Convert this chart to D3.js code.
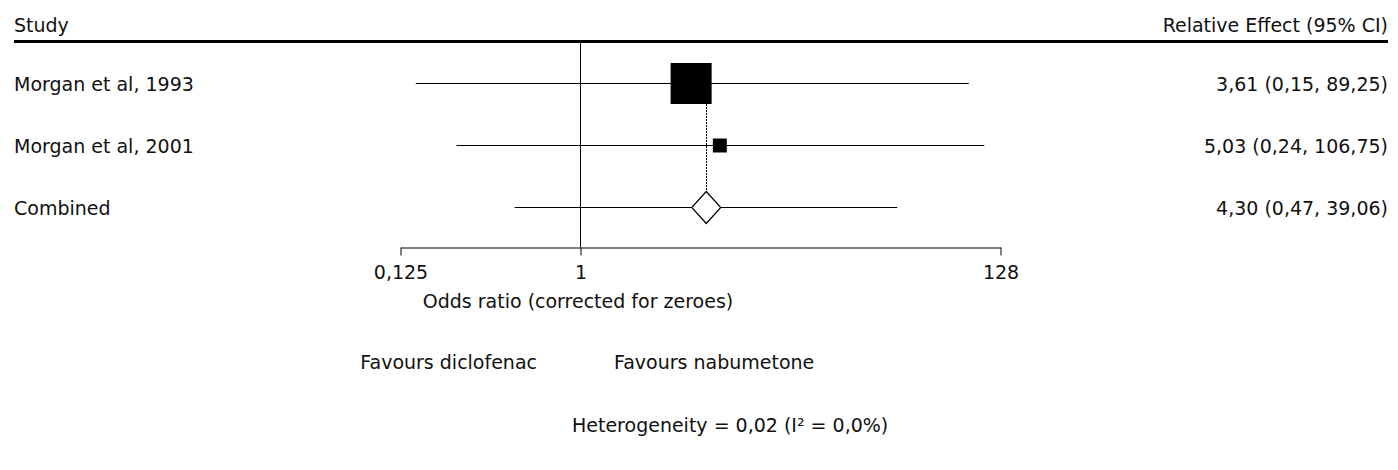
<!DOCTYPE html>
<html>
<head>
<meta charset="utf-8">
<script src="https://cdn.jsdelivr.net/npm/d3@7"></script>
<style>
  html, body { margin: 0; padding: 0; background: #fff; }
  svg text { font-family: "DejaVu Sans", Verdana, sans-serif; font-size: 19px; fill: #111; }
</style>
</head>
<body>
<svg id="chart" width="1398" height="470"></svg>
<script>
// Forest plot: odds ratios with 95% confidence intervals
const studies   = ["Morgan et al, 1993", "Morgan et al, 2001"];
const estimates = [3.61, 5.03];
const lowerCI   = [0.15, 0.24];
const upperCI   = [89.25, 106.75];
const weights   = [89.6, 10.4];

const pooledLabel    = "Combined";
const pooledEstimate = 4.30;
const pooledLower    = 0.47;
const pooledUpper    = 39.06;

const tickValues = [0.125, 1, 128];
const xTitle = "Odds ratio (corrected for zeroes)";
const leftFavour = "Favours diclofenac";
const rightFavour = "Favours nabumetone";
const heterogeneity = "Heterogeneity = 0,02 (I\u00B2 = 0,0%)";

const locale = d3.formatLocale({ decimal: ",", thousands: ".", grouping: [3], currency: ["", ""] });
const f2 = locale.format(".2f");
const fTick = v => locale.format("~g")(v);

const svg = d3.select("#chart");

const x = d3.scaleLog().base(2).domain([0.125, 128]).range([400, 1000]);
const rows = studies.concat([pooledLabel]);
const y = d3.scalePoint().domain(rows).range([83, 207]);
const side = d3.scaleSqrt().domain([0, d3.max(weights)]).range([0, 41]);
const textOffset = 8;

// column headers and rule
svg.append("text").attr("x", 14).attr("y", 32).text("Study");
svg.append("text").attr("x", 1388).attr("y", 32).attr("text-anchor", "end").text("Relative Effect (95% CI)");
svg.append("rect").attr("x", 14).attr("y", 40).attr("width", 1374).attr("height", 3).attr("fill", "#000");

// line of no effect
svg.append("line")
  .attr("x1", x(1) + 0.5).attr("x2", x(1) + 0.5)
  .attr("y1", 43).attr("y2", 247)
  .attr("stroke", "#000").attr("stroke-width", 1);

// axis
const axis = d3.axisBottom(x).tickValues(tickValues).tickFormat(fTick)
  .tickSize(8).tickSizeOuter(0).tickPadding(10);
const gAxis = svg.append("g").attr("transform", "translate(0.5,247.5)").call(axis);
gAxis.select(".domain").attr("stroke", "#000");
gAxis.selectAll(".tick line").attr("stroke", "#000");
gAxis.selectAll(".tick text").attr("fill", "#111")
  .style("font-family", "\"DejaVu Sans\", Verdana, sans-serif").style("font-size", "19px");

// study rows
const data = studies.map((s, i) => ({ s, est: estimates[i], lo: lowerCI[i], hi: upperCI[i], w: weights[i] }));

svg.selectAll("text.label").data(rows).join("text").attr("class", "label")
  .attr("x", 14).attr("y", d => y(d) + textOffset).text(d => d);

svg.selectAll("line.ci").data(data).join("line").attr("class", "ci")
  .attr("x1", d => x(d.lo)).attr("x2", d => x(d.hi))
  .attr("y1", d => Math.round(y(d.s)) + 0.5).attr("y2", d => Math.round(y(d.s)) + 0.5)
  .attr("stroke", "#000").attr("stroke-width", 1);

svg.selectAll("rect.box").data(data).join("rect").attr("class", "box")
  .attr("x", d => x(d.est) - side(d.w) / 2)
  .attr("y", d => y(d.s) - side(d.w) / 2 + 0.5)
  .attr("width", d => side(d.w)).attr("height", d => side(d.w))
  .attr("fill", "#000");

svg.selectAll("text.effect").data(data).join("text").attr("class", "effect")
  .attr("x", 1388).attr("y", d => y(d.s) + textOffset).attr("text-anchor", "end")
  .text(d => `${f2(d.est)} (${f2(d.lo)}, ${f2(d.hi)})`);

// pooled estimate
const py = y(pooledLabel);
const px = x(pooledEstimate);
svg.append("line")
  .attr("x1", x(pooledLower)).attr("x2", x(pooledUpper))
  .attr("y1", Math.round(py) + 0.5).attr("y2", Math.round(py) + 0.5)
  .attr("stroke", "#000").attr("stroke-width", 1);

const topBox = Math.round(y(studies[0]) + side(weights[0]) / 2);
svg.append("line")
  .attr("x1", Math.round(px) + 0.5).attr("x2", Math.round(px) + 0.5)
  .attr("y1", topBox).attr("y2", py - 15.5)
  .attr("stroke", "#000").attr("stroke-width", 1.2).attr("stroke-dasharray", "1.5,1.5")
  .attr("shape-rendering", "crispEdges");

svg.append("path")
  .attr("d", `M${px},${py - 15.5} L${px + 14.5},${py + 0.5} L${px},${py + 16.5} L${px - 14.5},${py + 0.5} Z`)
  .attr("fill", "#fff").attr("stroke", "#000").attr("stroke-width", 1.2);

svg.append("text").attr("x", 1388).attr("y", py + textOffset).attr("text-anchor", "end")
  .text(`${f2(pooledEstimate)} (${f2(pooledLower)}, ${f2(pooledUpper)})`);

// footer text
svg.append("text").attr("x", 578).attr("y", 308).attr("text-anchor", "middle").text(xTitle);
svg.append("text").attr("x", 537).attr("y", 369).attr("text-anchor", "end").text(leftFavour);
svg.append("text").attr("x", 614).attr("y", 369).text(rightFavour);
svg.append("text").attr("x", 572).attr("y", 432).text(heterogeneity);
</script>
</body>
</html>
